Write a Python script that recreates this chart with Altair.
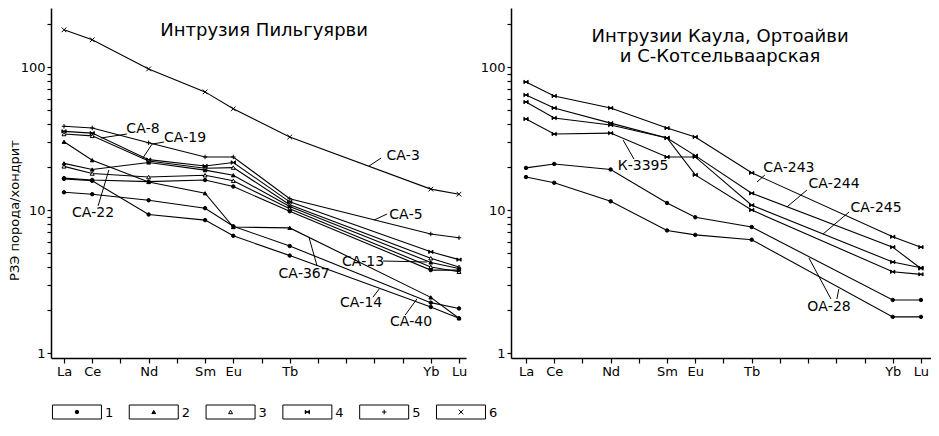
import altair as alt
import pandas as pd

# ---------------- data ----------------
ELEMENTS = ["La", "Ce", "Nd", "Sm", "Eu", "Tb", "Yb", "Lu"]
Z = [57, 58, 60, 62, 63, 65, 70, 71]

# left panel (Интрузия Пильгуярви): sample id, symbol type, chondrite-normalised values
L_IDS = ["a", "b", "c", "d", "e", "f", "g", "h", "i", "j"]
L_TYPES = ["6", "5", "4", "3", "2", "3", "1", "2", "1", "1"]
L_A = [182, 155, 97, 67, 51, 32.4, 14.0, 12.9]
L_B = [38.5, 37.5, 29.5, 23.5, 23.5, 12.0, 6.8, 6.4]
L_C = [35.5, 34.5, 22.5, 20.3, 21.5, 11.4, 5.1, 4.5]
L_D = [34.0, 33.0, 22.0, 19.6, 19.8, 10.9, 4.6, 4.0]
L_E = [21.2, 19.2, 21.5, 19.0, 17.5, 10.6, 4.3, 3.9]
L_F = [20.2, 18.0, 17.0, 17.5, 16.0, 10.2, 4.0, 3.7]
L_G = [16.7, 16.2, 15.8, 16.2, 14.6, 9.8, 3.8, 3.8]
L_H = [30.0, 22.3, 15.7, 13.1, 7.6, 7.5, 2.45, 1.75]
L_I = [13.3, 12.9, 11.7, 10.3, 7.7, 5.6, 2.25, 2.05]
L_J = [16.5, 16.0, 9.3, 8.5, 6.6, 4.8, 2.1, 1.75]
L_VALUES = [L_A, L_B, L_C, L_D, L_E, L_F, L_G, L_H, L_I, L_J]

# right panel (Интрузии Каула, Ортоайви и С-Котсельваарская)
R_IDS = ["r1", "r2", "r3", "r4", "r5", "r6"]
R_TYPES = ["4", "4", "4", "4", "1", "1"]
R_1 = [78.6, 62.7, 51.7, 37.4, 32.4, 18.2, 6.5, 5.5]
R_2 = [63.7, 51.7, 40.5, 31.9, 24.0, 13.1, 5.5, 3.9]
R_3 = [56.9, 44.0, 39.3, 31.9, 17.6, 10.0, 3.7, 3.55]
R_4 = [43.3, 34.0, 34.5, 23.5, 23.5, 10.8, 4.33, 3.95]
R_5 = [19.7, 21.0, 19.2, 11.2, 8.9, 7.6, 2.35, 2.35]
R_6 = [17.0, 15.5, 11.5, 7.2, 6.7, 6.2, 1.79, 1.79]
R_VALUES = [R_1, R_2, R_3, R_4, R_5, R_6]

# annotation labels (x in atomic number units, y in chondrite-normalised units)
L_LABELS = ["СА-3", "СА-8", "СА-19", "СА-22", "СА-5", "СА-13", "СА-367", "СА-14", "СА-40"]
L_LABEL_X = [69.02, 59.80, 61.29, 58.03, 69.12, 67.60, 65.51, 67.53, 69.30]
L_LABEL_Y = [23.9, 36.8, 31.9, 9.53, 9.23, 4.33, 3.57, 2.24, 1.65]
L_LEAD_X1 = [68.24, 59.23, 60.55, 60.12, 58.21, 68.45, 68.31, 65.97, 67.95, 69.09]
L_LEAD_Y1 = [23.1, 34.0, 29.9, 28.9, 10.7, 9.38, 4.40, 4.06, 2.46, 1.84]
L_LEAD_X2 = [67.81, 58.31, 60.12, 59.77, 58.59, 67.99, 69.87, 65.69, 68.17, 69.51]
L_LEAD_Y2 = [20.3, 31.9, 28.9, 22.7, 19.05, 8.51, 4.33, 6.37, 2.80, 2.39]

R_LABELS = ["К-3395", "СА-243", "СА-244", "СА-245", "ОА-28"]
R_LABEL_X = [61.15, 66.32, 67.92, 69.41, 67.74]
R_LABEL_Y = [20.3, 19.7, 15.2, 10.3, 2.10]
R_LEAD_X1 = [60.83, 65.47, 66.96, 68.45, 67.81, 68.02]
R_LEAD_Y1 = [22.7, 17.6, 13.8, 9.68, 2.39, 2.39]
R_LEAD_X2 = [60.44, 65.19, 66.25, 67.53, 67.03, 68.09]
R_LEAD_Y2 = [30.9, 15.7, 10.5, 6.79, 4.62, 2.80]

L_TITLE = ["Интрузия Пильгуярви"]
L_TITLE_X = [64.09]
L_TITLE_Y = [178.6]
R_TITLE = ["Интрузии Каула, Ортоайви", "и С-Котсельваарская"]
R_TITLE_X = [63.88, 63.88]
R_TITLE_Y = [163.4, 118.4]

LEGEND_TYPES = ["1", "2", "3", "4", "5", "6"]
LEGEND_POS = [1, 2, 3, 4, 5, 6]

# ---------------- styling helpers ----------------
FONT = "DejaVu Sans"
BOWTIE = "M-1,-0.8L1,0.8L1,-0.8L-1,0.8Z"
PLUS = "M-1,0L1,0M0,-1L0,1"
CROSS = "M-1,-1L1,1M-1,1L1,-1"
BOX = "M-1,-0.2857L1,-0.2857L1,0.2857L-1,0.2857Z"

shape_scale = alt.Scale(domain=LEGEND_TYPES,
                        range=["circle", "triangle-up", "triangle-up", BOWTIE, PLUS, CROSS])
fill_scale = alt.Scale(domain=LEGEND_TYPES,
                       range=["black", "black", "white", "black", "transparent", "transparent"])
size_scale = alt.Scale(domain=LEGEND_TYPES, range=[12, 22, 24, 20, 34, 30])

Y_DOMAIN = [0.923, 258.6]
Y_TICKS = [1, 2, 3, 4, 5, 6, 7, 8, 9, 10, 20, 30, 40, 50, 60, 70, 80, 90, 100, 200]
X_TICKS = list(range(57, 72))
X_LABEL_EXPR = ("datum.value==57?'La':datum.value==58?'Ce':datum.value==60?'Nd':"
                "datum.value==62?'Sm':datum.value==63?'Eu':datum.value==65?'Tb':"
                "datum.value==70?'Yb':datum.value==71?'Lu':''")
Y_LABEL_EXPR = "datum.value==1?'1':datum.value==10?'10':datum.value==100?'100':''"


def long_frame(ids, types, values):
    rows = []
    for sid, t, vals in zip(ids, types, values):
        for el, z, v in zip(ELEMENTS, Z, vals):
            rows.append({"sample": sid, "type": t, "el": el, "z": z, "v": v})
    return pd.DataFrame(rows)


def panel(ids, types, values, labels, lx, ly, lead, titles, tx, ty,
          xdomain, width, with_title):
    df = long_frame(ids, types, values)
    xscale = alt.Scale(domain=xdomain, nice=False, zero=False)
    yscale = alt.Scale(type="log", domain=Y_DOMAIN, nice=False)
    xaxis = alt.Axis(values=X_TICKS, labelExpr=X_LABEL_EXPR, title=None, grid=False,
                     tickSize=5, labelPadding=2, labelFontSize=13, labelFlush=False,
                     labelOverlap=False)
    if with_title:
        yaxis = alt.Axis(values=Y_TICKS, labelExpr=Y_LABEL_EXPR, grid=False, tickSize=4,
                         labelPadding=2, labelFontSize=13, labelOverlap=False,
                         title="РЗЭ порода/хондрит", titleFontSize=13,
                         titleFontWeight="normal", titleFont=FONT,
                         titleX=-30, titleY=202, titleAngle=270,
                         titleAlign="center", titleBaseline="bottom")
    else:
        yaxis = alt.Axis(values=Y_TICKS, labelExpr=Y_LABEL_EXPR, grid=False, tickSize=4,
                         labelPadding=2, labelFontSize=13, labelOverlap=False, title=None)

    def X(field):
        return alt.X(field, type="quantitative", scale=xscale, axis=xaxis)

    def Y(field):
        return alt.Y(field, type="quantitative", scale=yscale, axis=yaxis)

    base = alt.Chart(df)
    lines = base.mark_line(color="black", strokeWidth=1.1).encode(
        x=X("z"), y=Y("v"), detail="sample:N", order="z:Q",
    )
    pts = base.mark_point(stroke="black", strokeWidth=1, opacity=1).encode(
        x=X("z"), y=Y("v"),
        shape=alt.Shape("type:N", scale=shape_scale, legend=None),
        fill=alt.Fill("type:N", scale=fill_scale, legend=None),
        size=alt.Size("type:N", scale=size_scale, legend=None),
    )
    ann = pd.DataFrame({"t": labels, "x": lx, "y": ly})
    txt = alt.Chart(ann).mark_text(font=FONT, fontSize=14, color="black").encode(
        x=X("x"), y=Y("y"), text="t:N")
    ld = pd.DataFrame({"x1": lead[0], "y1": lead[1], "x2": lead[2], "y2": lead[3]})
    rules = alt.Chart(ld).mark_rule(color="black", strokeWidth=1).encode(
        x=X("x1"), y=Y("y1"), x2="x2:Q", y2="y2:Q")
    tt = pd.DataFrame({"t": titles, "x": tx, "y": ty})
    ttl = alt.Chart(tt).mark_text(font=FONT, fontSize=18, color="black").encode(
        x=X("x"), y=Y("y"), text="t:N")
    return alt.layer(lines, pts, rules, txt, ttl).properties(width=width, height=350)


left = panel(L_IDS, L_TYPES, L_VALUES, L_LABELS, L_LABEL_X, L_LABEL_Y,
             (L_LEAD_X1, L_LEAD_Y1, L_LEAD_X2, L_LEAD_Y2),
             L_TITLE, L_TITLE_X, L_TITLE_Y, [56.539, 71.248], 415, True)
right = panel(R_IDS, R_TYPES, R_VALUES, R_LABELS, R_LABEL_X, R_LABEL_Y,
              (R_LEAD_X1, R_LEAD_Y1, R_LEAD_X2, R_LEAD_Y2),
              R_TITLE, R_TITLE_X, R_TITLE_Y, [56.468, 71.357], 420, False)

top = alt.hconcat(left, right, spacing=13)

# ---------------- legend row ----------------
leg = pd.DataFrame({"type": LEGEND_TYPES, "pos": LEGEND_POS})
lx = alt.X("pos:Q", scale=alt.Scale(domain=[0.662, 6.456], nice=False, zero=False), axis=None)
lbase = alt.Chart(leg)
boxes = lbase.mark_point(shape=BOX, size=2401, filled=False, stroke="black",
                         strokeWidth=1, opacity=1).encode(x=lx)
syms = lbase.mark_point(stroke="black", strokeWidth=1, opacity=1).encode(
    x=lx,
    shape=alt.Shape("type:N", scale=shape_scale, legend=None),
    fill=alt.Fill("type:N", scale=fill_scale, legend=None),
    size=alt.Size("type:N", scale=size_scale, legend=None),
)
nums = lbase.mark_text(font=FONT, fontSize=13, align="left", baseline="bottom",
                       dx=28, dy=8, color="black").encode(x=lx, text="type:N")
legend = alt.layer(boxes, syms, nums).properties(width=445, height=20)

chart = alt.vconcat(top, legend, spacing=24).properties(padding=0).configure_view(
    stroke=None
).configure_axis(
    domainColor="black", domainWidth=1.5, tickColor="black", tickWidth=1.2,
    labelColor="black", labelFont=FONT, titleColor="black", labelOverlap=False
)

chart.save("out.html", embed_options={"renderer": "svg", "actions": False})
